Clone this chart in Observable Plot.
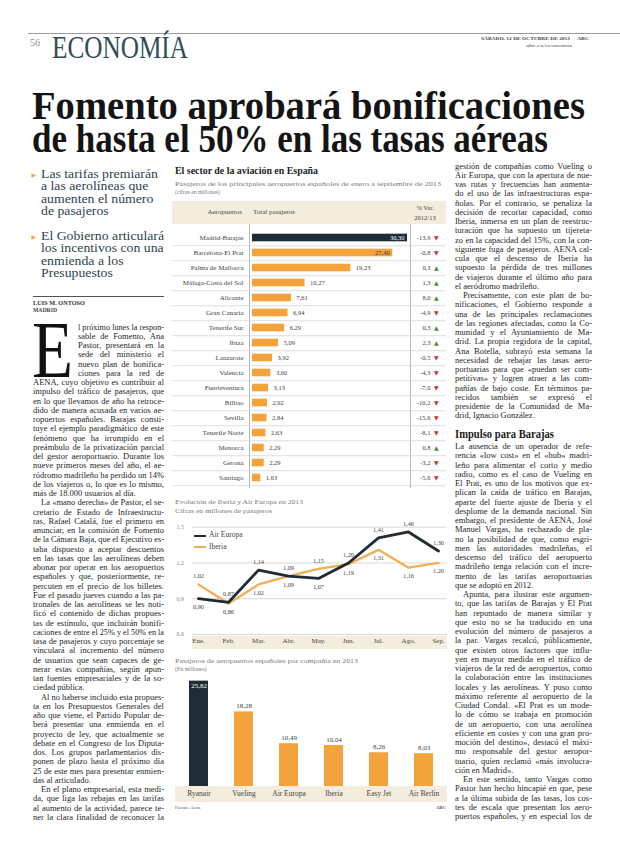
<!DOCTYPE html>
<html><head><meta charset="utf-8">
<script src="https://cdn.jsdelivr.net/npm/d3@7"></script>
<script src="https://cdn.jsdelivr.net/npm/@observablehq/plot@0.6"></script>
<style>
html,body{margin:0;padding:0;background:#fff;}
#page{position:relative;width:620px;height:846px;overflow:hidden;font-family:"Liberation Serif",serif;color:#222;}
#page svg{position:absolute;overflow:visible;}
.box{position:absolute;}
</style></head><body><div id="page"></div>
<script>
// ---------- DATA ----------
const airports = ["Madrid-Barajas","Barcelona-El Prat","Palma de Mallorca","Málaga-Costa del Sol","Alicante","Gran Canaria","Tenerife Sur","Ibiza","Lanzarote","Valencia","Fuerteventura","Bilbao","Sevilla","Tenerife Norte","Menorca","Gerona","Santiago"];
const passengers = [30.30,27.40,19.23,10.27,7.61,6.94,6.29,5.09,3.92,3.60,3.13,2.92,2.84,2.63,2.29,2.29,1.63];
const variation = [-13.9,-0.8,0.3,1.3,8.0,-4.9,0.3,2.3,-0.5,-4.3,-7.0,-10.2,-15.6,-8.1,0.8,-3.2,-5.6];
const months = ["Ene.","Feb.","Mar.","Abr.","May.","Jun.","Jul.","Ago.","Sep."];
const airEuropa = [0.90,0.87,1.14,1.09,1.07,1.20,1.41,1.46,1.30];
const iberia = [1.02,0.86,1.02,1.09,1.15,1.19,1.31,1.16,1.20];
const lineTicks = [0.6,0.9,1.2,1.5];
const airlines = ["Ryanair","Vueling","Air Europa","Iberia","Easy Jet","Air Berlin"];
const airlinePassengers = [25.82,18.28,10.49,10.04,8.26,8.03];

// ---------- TEXT ----------
const headline = ["Fomento aprobará bonificaciones","de hasta el 50% en las tasas aéreas"];
const deck1 = ["Las tarifas premiarán","a las aerolíneas que","aumenten el número","de pasajeros"];
const deck2 = ["El Gobierno articulará","los incentivos con una","enmienda a los","Presupuestos"];
const leftParas = [
 ["l próximo lunes la respon-","sable de Fomento, Ana","Pastor, presentará en la","sede del ministerio el","nuevo plan de bonifica-","ciones para la red de","AENA, cuyo objetivo es contribuir al","impulso del tráfico de pasajeros, que","en lo que llevamos de año ha retroce-","dido de manera acusada en varios ae-","ropuertos españoles. Barajas consti-","tuye el ejemplo paradigmático de este","fenómeno que ha irrumpido en el","preámbulo de la privatización parcial","del gestor aeroportuario. Durante los","nueve primeros meses del año, el ae-","ródromo madrileño ha perdido un 14%","de los viajeros o, lo que es lo mismo,","más de 18.000 usuarios al día."],
 ["La «mano derecha» de Pastor, el se-","cretario de Estado de Infraestructu-","ras, Rafael Catalá, fue el primero en","anunciar, en la comisión de Fomento","de la Cámara Baja, que el Ejecutivo es-","taba dispuesto a aceptar descuentos","en las tasas que las aerolíneas deben","abonar por operar en los aeropuertos","españoles y que, posteriormente, re-","percuten en el precio de los billetes.","Fue el pasado jueves cuando a las pa-","tronales de las aerolíneas se les noti-","ficó el contenido de dichas propues-","tas de estímulo, que incluirán bonifi-","caciones de entre el 25% y el 50% en la","tasa de pasajeros y cuyo porcentaje se","vinculará al incremento del número","de usuarios que sean capaces de ge-","nerar estas compañías, según apun-","tan fuentes empresariales y de la so-","ciedad pública."],
 ["Al no haberse incluido esta propues-","ta en los Presupuestos Generales del","año que viene, el Partido Popular de-","berá presentar una enmienda en el","proyecto de ley, que actualmente se","debate en el Congreso de los Diputa-","dos. Los grupos parlamentarios dis-","ponen de plazo hasta el próximo día","25 de este mes para presentar enmien-","das al articulado."],
 ["En el plano empresarial, esta medi-","da, que liga las rebajas en las tarifas","al aumento de la actividad, parece te-","ner la clara finalidad de reconocer la"]
];
const rightParasA = [
 ["gestión de compañías como Vueling o","Air Europa, que con la apertura de nue-","vas rutas y frecuencias han aumenta-","do el uso de las infraestructuras espa-","ñolas. Por el contrario, se penaliza la","decisión de recortar capacidad, como","Iberia, inmersa en un plan de reestruc-","turación que ha supuesto un tijereta-","zo en la capacidad del 15%, con la con-","siguiente fuga de pasajeros. AENA cal-","cula que el descenso de Iberia ha","supuesto la pérdida de tres millones","de viajeros durante el último año para","el aeródromo madrileño."],
 ["Precisamente, con este plan de bo-","nificaciones, el Gobierno responde a","una de las principales reclamaciones","de las regiones afectadas, como la Co-","munidad y el Ayuntamiento de Ma-","drid. La propia regidora de la capital,","Ana Botella, subrayó esta semana la","necesidad de rebajar las tasas aero-","portuarias para que «puedan ser com-","petitivas» y logren atraer a las com-","pañías de bajo coste. En términos pa-","recidos también se expresó el","presidente de la Comunidad de Ma-","drid, Ignacio González."]
];
const subhead = "Impulso para Barajas";
const rightParasB = [
 ["La ausencia de un operador de refe-","rencia «low cost» en el «hub» madri-","leño para alimentar el corto y medio","radio, como es el caso de Vueling en","El Prat, es uno de los motivos que ex-","plican la caída de tráfico en Barajas,","aparte del fuerte ajuste de Iberia y el","desplome de la demanda nacional. Sin","embargo, el presidente de AENA, José","Manuel Vargas, ha rechazado de pla-","no la posibilidad de que, como esgri-","men las autoridades madrileñas, el","descenso del tráfico del aeropuerto","madrileño tenga relación con el incre-","mento de las tarifas aeroportuarias","que se adoptó en 2012."],
 ["Apunta, para ilustrar este argumen-","to, que las tarifas de Barajas y El Prat","han repuntado de manera similar y","que esto no se ha traducido en una","evolución del número de pasajeros a","la par. Vargas recalcó, públicamente,","que existen otros factores que influ-","yen en mayor medida en el tráfico de","viajeros de la red de aeropuertos, como","la colaboración entre las instituciones","locales y las aerolíneas. Y puso como","máximo referente al aeropuerto de la","Ciudad Condal. «El Prat es un mode-","lo de cómo se trabaja en promoción","de un aeropuerto, con una aerolínea","eficiente en costes y con una gran pro-","moción del destino», destacó el máxi-","mo responsable del gestor aeropor-","tuario, quien reclamó «más involucra-","ción en Madrid»."],
 ["En este sentido, tanto Vargas como","Pastor han hecho hincapié en que, pese","a la última subida de las tasas, los cos-","tes de escala que presentan los aero-","puertos españoles, y en especial los de"]
];

// ---------- STYLE ----------
const SERIF = '"Liberation Serif", serif';
const DARK = "#1e2c35", ORANGE = "#f3a33b", ORANGE_LINE = "#f1ae55", BEIGE = "#f4ecdd";
const GREEN = "#4c8b3a", RED = "#c9362b";
const page = document.getElementById("page");
const fmt2 = v => v.toFixed(2).replace(".", ",");
const fmt1 = v => v.toFixed(1).replace(".", ",");

function box(x, y, w, h, bg) {
  const d = document.createElement("div");
  d.className = "box";
  Object.assign(d.style, {left: x + "px", top: y + "px", width: w + "px", height: h + "px", background: bg});
  page.appendChild(d);
  return d;
}
function measure(txt, size, font = SERIF, weight = "normal") {
  const el = document.createElement("span");
  el.textContent = txt;
  Object.assign(el.style, {position: "absolute", whiteSpace: "nowrap", fontSize: size + "px", fontFamily: font, fontWeight: weight, visibility: "hidden"});
  page.appendChild(el);
  const w = el.getBoundingClientRect().width;
  el.remove();
  return w;
}
// cy = visual middle of lowercase; or o.base = baseline
function put(txt, x, cy, o = {}) {
  const size = o.size || 8.5;
  const lh = o.lh || size * 1.2;
  const top = o.base != null ? o.base - lh / 2 - 0.3375 * size : cy - lh / 2 - 0.1075 * size;
  const el = document.createElement("div");
  el.textContent = txt;
  Object.assign(el.style, {position: "absolute", whiteSpace: "nowrap", left: "0px", top: top + "px",
    fontSize: size + "px", lineHeight: lh + "px", height: lh + "px", fontFamily: o.font || SERIF, fontWeight: o.weight || "normal",
    color: o.color || "#222", transformOrigin: "0 50%", letterSpacing: o.ls || "normal"});
  page.appendChild(el);
  const w = el.getBoundingClientRect().width;
  let s = 1;
  if (o.fit) s = o.fit / w;
  else if (o.max && w > o.max) s = o.max / w;
  if (o.sx) s = o.sx;
  if (o.justify) {
    const n = (txt.match(/ /g) || []).length;
    if (w < o.justify && n) { el.style.wordSpacing = ((o.justify - w) / n) + "px"; s = 1; }
    else s = o.justify / w;
  }
  const ww = o.justify ? o.justify : w * s;
  let left = x;
  if (o.align === "right") left = x - ww; else if (o.align === "center") left = x - ww / 2;
  el.style.left = left + "px";
  if (s !== 1) el.style.transform = `scaleX(${s})`;
  return el;
}

// ---------- PAGE HEADER ----------
box(28, 33, 592, 1.3, "#9a9a9a");
put("56", 30, 0, {base: 46, size: 10, color: "#8d8d8d"});
put("ECONOMÍA", 52, 0, {base: 58, size: 32, lh: 30, fit: 136, color: "#2f4d58"});
put("SÁBADO, 12 DE OCTUBRE DE 2013", 481, 40, {size: 5, fit: 89, color: "#444", weight: "bold"});
put("ABC", 577, 40, {size: 5, fit: 12, color: "#444", weight: "bold"});
put("abc.es/economia", 526, 46.5, {size: 5, fit: 46, color: "#555"});
put(headline[0], 32, 0, {base: 119.5, size: 39, lh: 32, weight: "bold", fit: 553, color: "#141414"});
put(headline[1], 32, 0, {base: 152.5, size: 39, lh: 32, weight: "bold", fit: 516, color: "#141414"});

// ---------- DECK ----------
const deckSize = 13.5;
const deckScale = 123 / measure(deck2[0], deckSize);
deck1.forEach((t, i) => put(t, 40.5, 175 + i * 12.5, {size: deckSize, lh: 12, sx: deckScale, color: "#2b4550"}));
deck2.forEach((t, i) => put(t, 40.5, 237 + i * 12.5, {size: deckSize, lh: 12, sx: deckScale, color: "#2b4550"}));
put("▶", 31.5, 175, {size: 6, font: '"DejaVu Sans", sans-serif', color: ORANGE});
put("▶", 31.5, 237, {size: 6, font: '"DejaVu Sans", sans-serif', color: ORANGE});
box(33, 296, 131, 1, "#555");
put("LUIS M. ONTOSO", 33, 303, {size: 6.3, lh: 7, weight: "bold", color: "#333", fit: 52});
put("MADRID", 33, 311, {size: 5.8, lh: 7, weight: "bold", color: "#444", fit: 24});

// ---------- BODY COLUMNS ----------
const BODY = 8.5, LH = 9.25;
function renderColumn(paras, x0, width, y0, opts = {}) {
  const specs = [];
  paras.forEach((p, pi) => p.forEach((t, li) => {
    const last = li === p.length - 1 && !(opts.continues && pi === paras.length - 1);
    const indent = li === 0 && !(opts.noIndentFirst && pi === 0) ? 8 : 0;
    specs.push({t, last, indent});
  }));
  const dropLines = opts.dropLines || 0, dropIndent = opts.dropIndent || 0;
  specs.forEach((s, i) => {
    s.x = x0 + s.indent + (i < dropLines ? dropIndent : 0);
    s.w = width - s.indent - (i < dropLines ? dropIndent : 0);
    s.nat = measure(s.t, BODY);
  });
  const ratios = specs.filter(s => !s.last).map(s => s.w / s.nat).sort((a, b) => a - b);
  const med = Math.min(1, ratios[Math.floor(ratios.length / 2)] || 1);
  specs.forEach((s, i) => {
    const y = y0 + i * LH;
    if (s.last) put(s.t, s.x, y, {size: BODY, lh: 8.8, sx: Math.min(med, s.w / s.nat), color: "#1f1f1f"});
    else put(s.t, s.x, y, {size: BODY, lh: 8.8, justify: s.w, color: "#1f1f1f"});
  });
  return y0 + specs.length * LH;
}
renderColumn(leftParas, 33, 131, 328, {noIndentFirst: true, continues: true, dropLines: 6, dropIndent: 45});
put("E", 32, 0, {base: 377, size: 80, lh: 52, fit: 41, color: "#111"});
renderColumn(rightParasA, 455, 137, 167, {noIndentFirst: true});
put(subhead, 455, 0, {base: 438, size: 12.5, lh: 12, weight: "bold", fit: 99, color: "#1d1d1d"});
renderColumn(rightParasB, 455, 137, 447.5, {noIndentFirst: true, continues: true});

// ---------- CHART 1: airports ----------
put("El sector de la aviación en España", 175, 172, {size: 10, lh: 10, weight: "bold", fit: 143, color: "#222"});
put("Pasajeros de los principales aeropuertos españoles de enero a septiembre de 2013", 175, 184, {size: 6.8, lh: 7.5, fit: 266, color: "#7a7a7a"});
put("(cifras en millones)", 175, 192.5, {size: 6.8, lh: 7.5, sx: 0.85, color: "#7a7a7a"});
box(172, 201, 274, 23, BEIGE);
put("Aeropuertos", 242, 213, {size: 7, align: "right", color: "#444"});
put("Total pasajeros", 253, 213, {size: 7, color: "#444"});
put("% Var.", 425, 208, {size: 6.5, lh: 7, align: "center", color: "#444"});
put("2012/13", 425, 218, {size: 6.5, lh: 7, align: "center", color: "#444"});
box(249, 224, 0.8, 264, "#b9b9b9");
box(410, 224, 0.8, 264, "#b9b9b9");

const rows = airports.map((a, i) => ({a, v: passengers[i], d: variation[i], i}));
const top1 = 226.3, bottom1 = 488.3;
const step1 = (bottom1 - top1) / airports.length;
const c1 = Plot.plot({
  width: 274, height: 290,
  marginTop: top1 - 200, marginBottom: 490 - bottom1, marginLeft: 0, marginRight: 0,
  x: {domain: [0, d3.max(passengers)], range: [80, 235], axis: null},
  y: {domain: airports, axis: null, padding: 0},
  color: {type: "identity"},
  style: {background: "transparent", fontFamily: SERIF},
  marks: [
    Plot.ruleY(rows, {y: "a", dy: step1 / 2, stroke: "#d6d6d6", strokeWidth: 0.8}),
    Plot.barX(rows, {x: "v", y: "a", fill: d => d.i === 0 ? DARK : ORANGE, insetTop: 3.7, insetBottom: 3.7}),
    Plot.text(rows.filter(d => d.i < 2), {x: "v", y: "a", text: d => fmt2(d.v), textAnchor: "end", dx: -3, fill: d => d.i === 0 ? "#fff" : "#3a3a3a", fontSize: 6.5}),
    Plot.text(rows.filter(d => d.i >= 2), {x: "v", y: "a", text: d => fmt2(d.v), textAnchor: "start", dx: 5, fill: "#444", fontSize: 6.5}),
    Plot.text(rows, {y: "a", text: "a", frameAnchor: "left", dx: 71, textAnchor: "end", fill: "#444", fontSize: 7}),
    Plot.text(rows, {y: "a", text: d => fmt1(d.d), frameAnchor: "right", dx: -16, textAnchor: "end", fill: "#444", fontSize: 6.5}),
    Plot.text(rows, {y: "a", text: d => d.d >= 0 ? "▲" : "▼", frameAnchor: "right", dx: -8, fill: d => d.d >= 0 ? GREEN : RED, fontSize: 6, fontFamily: '"DejaVu Sans", sans-serif'})
  ]
});
Object.assign(c1.style, {left: "172px", top: "200px"});
page.appendChild(c1);

// ---------- CHART 2: lines ----------
put("Evolución de Iberia y Air Europa en 2013", 175, 502, {size: 6.8, lh: 7.5, fit: 128, color: "#7a7a7a"});
put("Cifras en millones de pasajeros", 175, 511, {size: 6.8, lh: 7.5, fit: 97, color: "#7a7a7a"});
box(192, 635.5, 255, 13, BEIGE);
box(194, 534.5, 12, 2.6, DARK);
box(194, 546, 12, 2.4, ORANGE_LINE);
put("Air Europa", 209, 536, {size: 7.5, lh: 8, color: "#444"});
put("Iberia", 209, 547.5, {size: 7.5, lh: 8, color: "#444"});

const serA = months.map((m, i) => ({m, v: airEuropa[i], above: airEuropa[i] >= iberia[i]}));
const serI = months.map((m, i) => ({m, v: iberia[i], above: iberia[i] > airEuropa[i]}));
const pts = serA.concat(serI);
const c2 = Plot.plot({
  width: 276, height: 135,
  marginLeft: 20, marginRight: 1, marginTop: 0, marginBottom: 0,
  x: {domain: months, range: [22.25, 270], padding: 0, axis: null},
  y: {domain: [0.6, 1.5], range: [119, 11.7], axis: null},
  style: {background: "transparent", fontFamily: SERIF},
  marks: [
    Plot.ruleY(lineTicks, {stroke: "#cfcfcf", strokeWidth: 0.8}),
    Plot.text(lineTicks, {y: d => d, text: d => d.toFixed(1), frameAnchor: "left", dx: -16, textAnchor: "start", fill: "#888", fontSize: 6}),
    Plot.line(serI, {x: "m", y: "v", stroke: ORANGE_LINE, strokeWidth: 2.3}),
    Plot.line(serA, {x: "m", y: "v", stroke: DARK, strokeWidth: 2.8}),
    Plot.text(pts.filter(d => d.above), {x: "m", y: "v", text: d => fmt2(d.v), dy: -8, fill: "#444", fontSize: 6.3}),
    Plot.text(pts.filter(d => !d.above), {x: "m", y: "v", text: d => fmt2(d.v), dy: 8.5, fill: "#444", fontSize: 6.3}),
    Plot.text(months, {x: d => d, frameAnchor: "bottom", dy: -8, fill: "#444", fontSize: 7})
  ]
});
Object.assign(c2.style, {left: "172px", top: "515px"});
page.appendChild(c2);

// ---------- CHART 3: airlines ----------
put("Pasajeros de aeropuertos españoles por compañía en 2013", 175, 661, {size: 6.8, lh: 7.5, fit: 183, color: "#7a7a7a"});
put("(En millones)", 175, 669.5, {size: 6.8, lh: 7.5, sx: 0.85, color: "#7a7a7a"});
box(175, 786, 272, 16, BEIGE);
const bars = airlines.map((a, i) => ({a, v: airlinePassengers[i], i}));
const c3 = Plot.plot({
  width: 276, height: 132, margin: 0,
  x: {domain: airlines, range: [3.75, 274.55], paddingInner: 0.58, paddingOuter: 0.29, axis: null},
  y: {domain: [0, 26], range: [110, 3.9], axis: null},
  color: {type: "identity"},
  style: {background: "transparent", fontFamily: SERIF},
  marks: [
    Plot.barY(bars, {x: "a", y: "v", fill: d => d.i === 0 ? DARK : ORANGE}),
    Plot.text(bars.filter(d => d.i > 0), {x: "a", y: "v", text: d => fmt2(d.v), dy: -6, fill: "#444", fontSize: 7}),
    Plot.text(bars.filter(d => d.i === 0), {x: "a", y: "v", text: d => fmt2(d.v), dy: 5, fill: "#fff", fontSize: 7}),
    Plot.text(airlines, {x: d => d, frameAnchor: "bottom", dy: -13, fill: "#444", fontSize: 7.5})
  ]
});
Object.assign(c3.style, {left: "172px", top: "676px"});
page.appendChild(c3);
put("Fuente: Aena", 175, 808, {size: 4.8, color: "#555"});
put("ABC", 446, 808, {size: 4.8, color: "#555", align: "right", weight: "bold"});
</script></body></html>
